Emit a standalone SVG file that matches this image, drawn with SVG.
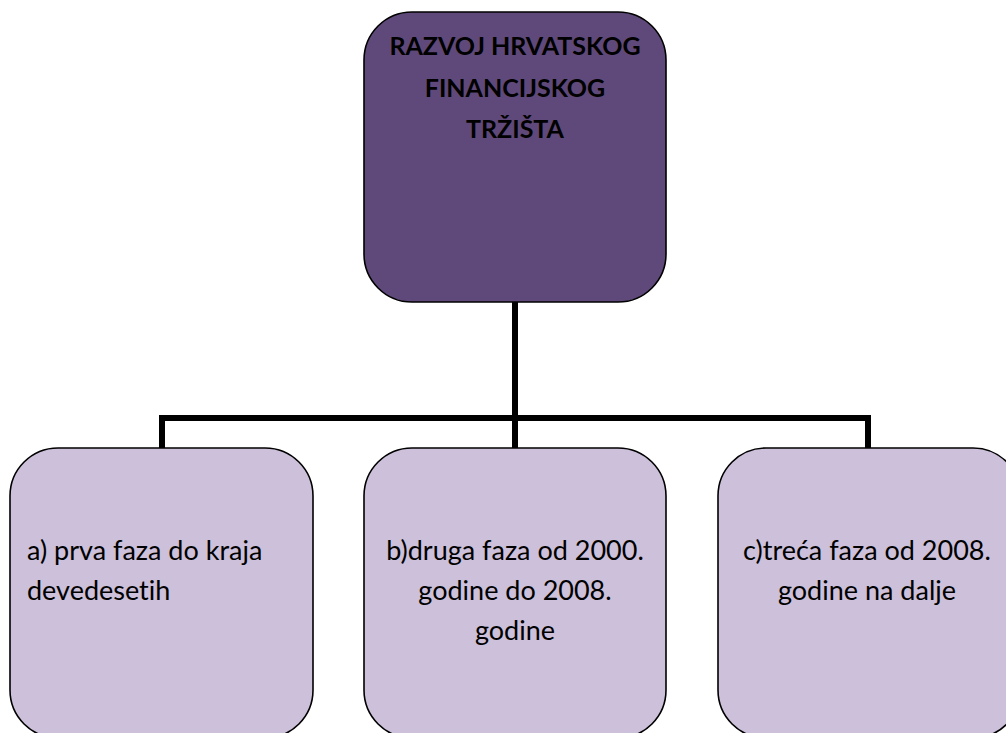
<svg xmlns="http://www.w3.org/2000/svg" width="1006" height="733" viewBox="0 0 1006 733">
<style>
.top{fill:#5f497a;stroke:#000;stroke-width:1.6}
.child{fill:#ccc0da;stroke:#000;stroke-width:1.6}
.conn{fill:none;stroke:#000;stroke-width:6;stroke-linejoin:miter;stroke-linecap:butt}
.t{font-family:Lato,"Liberation Sans",sans-serif;font-size:27px;fill:#000;font-variant-ligatures:none}
.b{font-weight:bold;font-size:25px}
</style>
<rect width="1006" height="733" fill="#fff"/>
<g id="connectors">
<path class="conn" d="M515,302 V448"/>
<path class="conn" d="M162,448 V418 H868 V448"/>
</g>
<g id="node-root">
<rect class="top" x="364" y="12" width="302" height="290" rx="48" ry="48"/>
<text class="t b" text-anchor="middle" x="515" y="55">RAZVOJ HRVATSKOG</text>
<text class="t b" text-anchor="middle" x="515" y="97">FINANCIJSKOG</text>
<text class="t b" text-anchor="middle" x="515" y="138">TRŽIŠTA</text>
</g>
<g id="node-a">
<rect class="child" x="10" y="448" width="303" height="290" rx="48" ry="48"/>
<text class="t" x="27" y="560">a) prva faza do kraja</text>
<text class="t" x="27" y="600">devedesetih</text>
</g>
<g id="node-b">
<rect class="child" x="364" y="448" width="302" height="290" rx="48" ry="48"/>
<text class="t" text-anchor="middle" x="515" y="560">b)druga faza od 2000.</text>
<text class="t" text-anchor="middle" x="515" y="600">godine do 2008.</text>
<text class="t" text-anchor="middle" x="515" y="640">godine</text>
</g>
<g id="node-c">
<rect class="child" x="718" y="448" width="303" height="290" rx="48" ry="48"/>
<text class="t" text-anchor="middle" x="867" y="560">c)treća faza od 2008.</text>
<text class="t" text-anchor="middle" x="867" y="600">godine na dalje</text>
</g>
</svg>
